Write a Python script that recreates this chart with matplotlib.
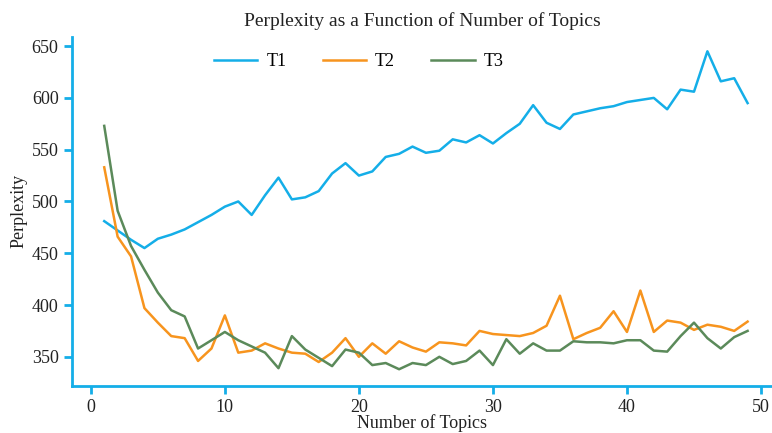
import numpy as np
import matplotlib
matplotlib.use('Agg')
import matplotlib.pyplot as plt

plt.rcParams['font.family'] = ['Liberation Serif', 'DejaVu Serif']

topics = list(range(1, 50))

t1 = [481, 472, 463, 455, 464, 468, 473, 480, 487, 495, 500, 487, 506, 523, 502,
      504, 510, 527, 537, 525, 529, 543, 546, 553, 547, 549, 560, 557, 564, 556,
      566, 575, 593, 576, 570, 584, 587, 590, 592, 596, 598, 600, 589, 608, 606,
      645, 616, 619, 595]
t2 = [533, 466, 447, 397, 383, 370, 368, 346, 358, 390, 354, 356, 363, 358, 354,
      353, 345, 354, 368, 350, 363, 353, 365, 359, 355, 364, 363, 361, 375, 372,
      371, 370, 373, 380, 409, 367, 373, 378, 394, 374, 414, 374, 385, 383, 376,
      381, 379, 375, 384]
t3 = [573, 491, 457, 434, 412, 395, 389, 358, 366, 374, 366, 360, 354, 339, 370,
      357, 349, 341, 357, 354, 342, 344, 338, 344, 342, 350, 343, 346, 356, 342,
      367, 353, 363, 356, 356, 365, 364, 364, 363, 366, 366, 356, 355, 370, 383,
      368, 358, 369, 375]

blue = '#14aee8'
orange = '#f7941e'
green = '#5b8a5a'


def main():
    fig = plt.figure(figsize=(7.72, 4.33), dpi=100)
    ax = fig.add_axes([0.093, 0.109, 0.907, 0.806])

    ax.plot(topics, t1, color=blue, lw=1.8, label='T1')
    ax.plot(topics, t2, color=orange, lw=1.8, label='T2')
    ax.plot(topics, t3, color=green, lw=1.8, label='T3')

    ax.set_xlim(-1.42, 50.82)
    ax.set_ylim(322, 659)
    ax.set_xticks([0, 10, 20, 30, 40, 50])
    ax.set_yticks([350, 400, 450, 500, 550, 600, 650])

    for s in ['top', 'right']:
        ax.spines[s].set_visible(False)
    for s in ['left', 'bottom']:
        ax.spines[s].set_color(blue)
        ax.spines[s].set_linewidth(2)
    ax.tick_params(colors=blue, width=2, length=6, labelsize=13,
                   labelcolor='#222222')

    ax.set_title('Perplexity as a Function of Number of Topics', fontsize=14,
                 color='#222222', pad=8)
    ax.set_xlabel('Number of Topics', fontsize=13, color='#222222', labelpad=-1)
    ax.set_ylabel('Perplexity', fontsize=13, color='#222222', labelpad=3)

    ax.legend(ncol=3, loc='upper center', bbox_to_anchor=(0.41, 1.0),
              frameon=False, fontsize=13, handlelength=2.4, columnspacing=2.0,
              handletextpad=0.5)

    fig.savefig('out.png', dpi=100)


if __name__ == '__main__':
    main()
